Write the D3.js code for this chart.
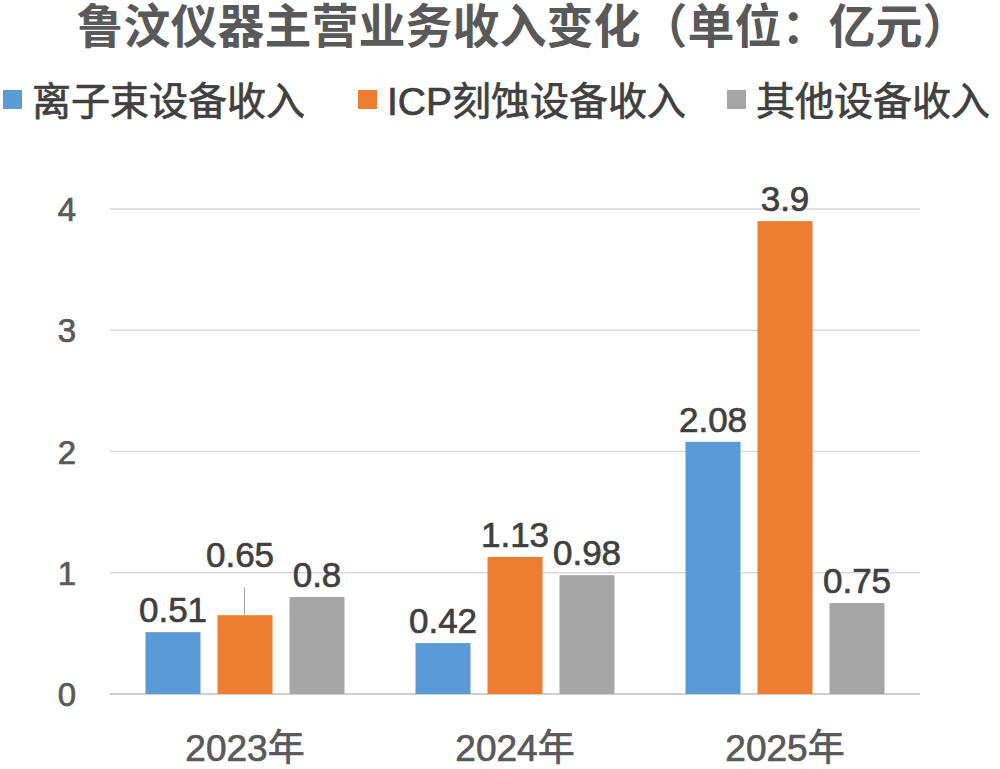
<!DOCTYPE html>
<html><head><meta charset="utf-8">
<script src="https://cdn.jsdelivr.net/npm/d3@7/dist/d3.min.js"></script>
<style>body{margin:0;background:#fff}svg{display:block}text{font-family:"Liberation Sans","Noto Sans CJK SC",sans-serif}
.m{stroke-width:0.7px}</style>
</head><body><svg id="c" width="1000" height="769"></svg>
<script>
const years = ["2023年","2024年","2025年"];
const seriesNames = ["离子束设备收入","ICP刻蚀设备收入","其他设备收入"];
const ionBeam = [0.51,0.42,2.08];
const icp = [0.65,1.13,3.9];
const other = [0.8,0.98,0.75];
const yTicks = [0,1,2,3,4];
const colors = ["#5B9BD5","#ED7D31","#A5A5A5"];
const series = [ionBeam, icp, other];

const svg = d3.select("#c");
const x = d3.scaleBand().domain(years).range([110,920]);
const xi = d3.scaleBand().domain([0,1,2]).range([0,199]).paddingInner(17/72);
const y = d3.scaleLinear().domain([0,4]).range([694,209]);

svg.append("text").attr("x",523).attr("y",43).attr("text-anchor","middle")
  .attr("font-size",47).attr("font-weight","bold").attr("fill","#595959")
  .text("鲁汶仪器主营业务收入变化（单位：亿元）");

const legX=[3,358,727];
seriesNames.forEach((n,i)=>{
  svg.append("rect").attr("x",legX[i]).attr("y",90).attr("width",19).attr("height",19).attr("fill",colors[i]);
  svg.append("text").attr("class","m").attr("x",legX[i]+29).attr("y",115).attr("font-size",39).attr("stroke","#404040").attr("fill","#404040").text(n);
});

yTicks.forEach(t=>{
  svg.append("line").attr("x1",110).attr("x2",920).attr("y1",y(t)).attr("y2",y(t))
    .attr("stroke",t===0?"#bfbfbf":"#d9d9d9").attr("stroke-width",1.5);
  svg.append("text").attr("class","m").attr("x",76).attr("y",y(t)+12).attr("text-anchor","end")
    .attr("font-size",33).attr("fill","#595959").attr("stroke","#595959").text(t);
});

years.forEach((yr,gi)=>{
  const g0 = x(yr)+x.bandwidth()/2-99.5;
  series.forEach((s,si)=>{
    const v=s[gi], bx=g0+xi(si), bw=xi.bandwidth();
    svg.append("rect").attr("x",bx).attr("y",y(v)).attr("width",bw).attr("height",y(0)-y(v)).attr("fill",colors[si]);
    const lift = (gi===0&&si===1)?48:10;
    if(lift>10) svg.append("line").attr("x1",bx+27).attr("x2",bx+27).attr("y1",y(v)).attr("y2",y(v)-28).attr("stroke","#a6a6a6");
    svg.append("text").attr("class","m").attr("x",bx+bw/2+(lift>10?-5:0)).attr("y",y(v)-lift).attr("text-anchor","middle")
      .attr("font-size",35).attr("fill","#404040").attr("stroke","#404040").text(v);
  });
  svg.append("text").attr("class","m").attr("x",x(yr)+x.bandwidth()/2).attr("y",761).attr("text-anchor","middle")
    .attr("font-size",37).attr("fill","#595959").attr("stroke","#595959").text(yr);
});
</script></body></html>
